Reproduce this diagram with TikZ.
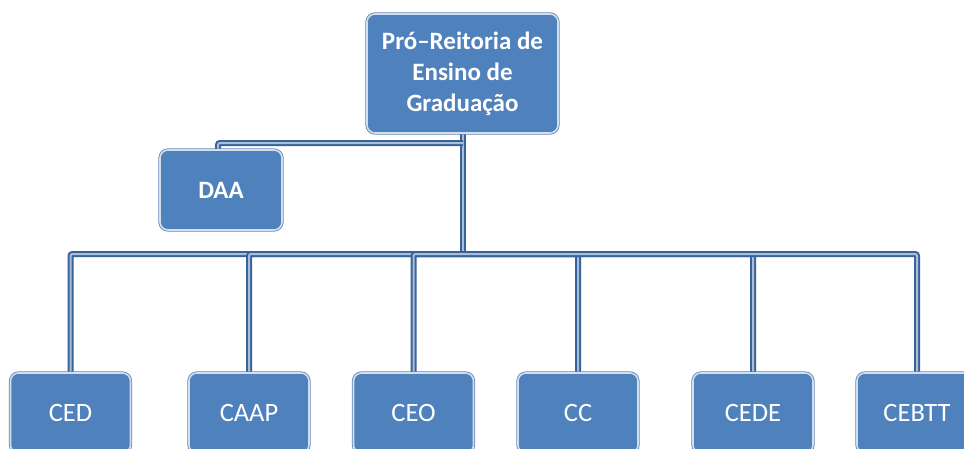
\documentclass[tikz,border=0pt]{standalone}
\usepackage{fontspec}
\setmainfont{Carlito}
\usetikzlibrary{backgrounds}
\definecolor{boxfill}{HTML}{4F81BD}
\definecolor{boxring}{HTML}{D3DFEE}
\definecolor{boxouter}{HTML}{5F84B8}
\definecolor{linedark}{HTML}{38629A}
\definecolor{linelight}{HTML}{A9BED9}
\begin{document}
\begin{tikzpicture}[x=1pt,y=-1pt,
  orgbox/.style={rectangle, rounded corners=8pt, fill=boxfill, draw=boxring, line width=1.6pt,
    preaction={draw=boxouter, line width=3.2pt},
    text=white, font=\fontsize{26.5}{30}\selectfont, align=center, inner sep=0pt},
  boldbox/.style={orgbox, font=\fontsize{25}{31}\selectfont\bfseries},
  link/.style={draw=linedark, line width=2pt, double=linelight, double distance=2pt, rounded corners=2pt}]
\useasboundingbox (0,0) rectangle (964,448);
\clip (0,0) rectangle (964,448);
% nodes
\node[boldbox, minimum width=191pt, minimum height=119pt] (pro) at (462.5,73.5) {Pró–Reitoria de\\Ensino de\\Graduação};
\node[boldbox, minimum width=122pt, minimum height=80pt] (daa) at (221,190) {DAA};
\foreach \n/\t/\x in {ced/CED/70.5, caap/CAAP/249, ceo/CEO/413.5, cc/CC/578, cede/CEDE/753, cebtt/CEBTT/917}{
  \node[orgbox, minimum width=120pt, minimum height=80pt] (\n) at (\x,413) {\t};
}
\coordinate (bus) at (463,254);
\coordinate (daaj) at (463,143);
% connectors
\begin{scope}[on background layer]
\draw[link] (pro.south -| bus) -- (bus);
\draw[link] (daaj) -- (218,143) -- (daa.north -| 218,150);
\foreach \n in {ced,caap,ceo,cc,cede,cebtt}{
  \draw[link] (bus) -| (\n.north);
}
\end{scope}
\end{tikzpicture}
\end{document}
